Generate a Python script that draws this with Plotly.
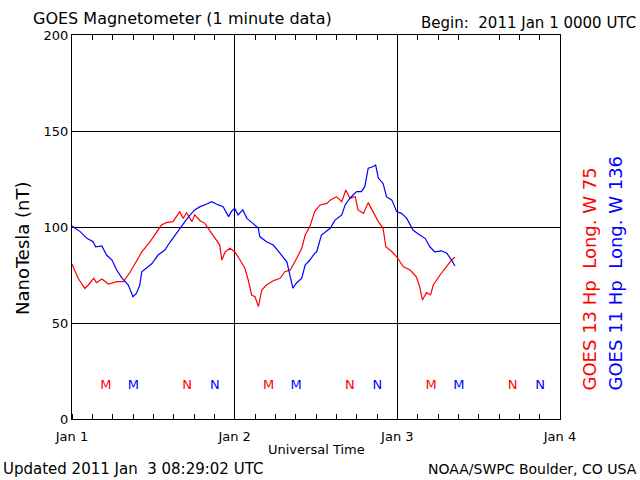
import plotly.graph_objects as go

# Hours since 2011 Jan 1 00:00 UTC
red_t = [0, 0.9, 1.9, 2.4, 3.2, 3.6, 4.4, 5.4, 6.6, 7.6, 8.6, 9.5, 10.3, 11.5, 12.5, 13.2, 14, 14.9,
         15.9, 16.4, 16.9, 17.7, 18.1, 18.9, 19.6, 20.4, 21.1, 21.8, 22.1, 22.6, 23.3, 24.0, 24.8,
         25.5, 26.0, 26.5, 27.0, 27.5, 28.0, 28.7, 29.7, 30.7, 31.4, 32.2, 32.9, 33.9, 34.4, 35.1,
         35.8, 36.6, 37.6, 38.1, 39.0, 39.8, 40.4, 41.0, 41.8, 42.2, 43.0, 43.7, 44.4, 45.2, 45.9,
         46.3, 47.2, 47.9, 48.9, 49.9, 50.8, 51.3, 51.7, 52.3, 52.9, 53.3, 54.3, 55.3, 56.0, 56.5]
red_v = [80.7, 73.3, 68, 69.8, 73.3, 71, 72.9, 70.3, 71.5, 71.5, 76.7, 82, 87, 92.3, 97.6, 101, 102.4,
         102.8, 108, 104.5, 107.4, 102.8, 106.3, 103.3, 101.9, 97.6, 94.1, 90.6, 82.8, 87, 88.9, 87.1,
         82.8, 78.5, 72.4, 64.6, 63.7, 58.5, 67.2, 69.8, 72, 73.3, 76.7, 77.6, 82, 88.9, 95.8, 100.2,
         108, 111.5, 112.3, 114, 115.8, 113.2, 119.3, 115, 115.8, 108.9, 107.1, 112.7, 108, 102.8,
         99.3, 89.7, 87.1, 84.5, 79.3, 77.6, 74.1, 68.9, 62, 65.8, 64.6, 69.8, 75, 79.3, 82.8, 84.2]

blue_t = [0, 1.2, 2.2, 3.1, 3.5, 4.4, 5.1, 5.9, 6.6, 7.3, 8.3, 9.0, 9.5, 10.0, 10.3, 11.0, 11.8, 12.7,
          13.7, 14.5, 15.4, 16.4, 17.2, 18.1, 18.9, 19.9, 20.6, 21.6, 22.3, 23.1, 23.6, 24.0, 24.5,
          25.2, 25.8, 26.7, 27.5, 27.7, 28.7, 29.7, 30.7, 31.7, 32.2, 32.6, 33.1, 33.9, 34.4, 35.1,
          35.8, 36.1, 36.8, 38.1, 38.8, 39.8, 40.3, 41.0, 42.0, 42.7, 43.2, 43.7, 44.4, 44.8, 45.2,
          45.9, 46.4, 47.2, 47.9, 48.6, 49.4, 50.3, 51.3, 52.1, 52.8, 53.5, 54.5, 55.3, 56.0, 56.5]
blue_v = [100.5, 97.6, 94.1, 92.3, 89.7, 90.1, 85.4, 82.8, 77.6, 73.8, 69.8, 63.7, 65.4, 69.8, 76.7,
          78.5, 81, 85.4, 88, 92.3, 96.7, 101.9, 105.4, 108.9, 110.6, 112, 113.2, 111.5, 110.6, 105.4,
          108.5, 109.7, 106.3, 108.9, 104.5, 101.9, 99.3, 95, 92.3, 90.6, 86.3, 81.9, 74.1, 68.1, 70.7,
          73.3, 80.2, 82.8, 86.3, 87.1, 95.8, 99.3, 103.6, 106.3, 111.5, 115, 118.4, 118.4, 121, 130.6,
          131.4, 132.3, 125.4, 122.7, 115.8, 114, 108, 107.1, 104.5, 98.4, 95.8, 94.1, 89.7, 87.1,
          87.6, 86.3, 82.8, 79.7]

# Local midnight (M) and noon (N) marker times, hours UT
red_m = [5, 29, 53]
red_n = [17, 41, 65]
blue_m = [9.07, 33.07, 57.07]
blue_n = [21.07, 45.07, 69.07]
marker_level = 17.2

day_ticks = [0, 24, 48, 72]
day_labels = ["Jan 1", "Jan 2", "Jan 3", "Jan 4"]
y_ticks = [0, 50, 100, 150, 200]

RED = "#FF0000"
BLUE = "#0000FF"
FONT = "DejaVu Sans"

fig = go.Figure()
fig.add_trace(go.Scatter(x=red_t, y=red_v, mode="lines", line=dict(color=RED, width=1.2),
                         showlegend=False, hoverinfo="skip"))
fig.add_trace(go.Scatter(x=blue_t, y=blue_v, mode="lines", line=dict(color=BLUE, width=1.2),
                         showlegend=False, hoverinfo="skip"))
# M / N markers as text
fig.add_trace(go.Scatter(x=red_m + red_n, y=[marker_level] * 6, mode="text",
                         text=["M"] * 3 + ["N"] * 3, textfont=dict(color=RED, size=13, family=FONT),
                         showlegend=False, hoverinfo="skip"))
fig.add_trace(go.Scatter(x=blue_m + blue_n, y=[marker_level] * 6, mode="text",
                         text=["M"] * 3 + ["N"] * 3, textfont=dict(color=BLUE, size=13, family=FONT),
                         showlegend=False, hoverinfo="skip"))
# invisible trace for top axis
fig.add_trace(go.Scatter(x=[0, 72], y=[0, 0], xaxis="x2", mode="lines",
                         line=dict(width=0), opacity=0, showlegend=False, hoverinfo="skip"))

fig.update_layout(
    width=640, height=480,
    margin=dict(l=72, r=80, t=35, b=61),
    paper_bgcolor="white", plot_bgcolor="white",
    font=dict(family=FONT, size=13, color="black"),
    xaxis=dict(range=[0, 72], tickvals=day_ticks, ticktext=day_labels, ticks="",
               showgrid=True, gridcolor="black", gridwidth=1,
               showline=True, linecolor="black", linewidth=1, mirror=True,
               zeroline=False, tickfont=dict(size=13), ticklabelstandoff=5,
               minor=dict(dtick=3, tick0=0, ticks="inside", ticklen=5, tickcolor="black",
                          showgrid=False)),
    xaxis2=dict(range=[0, 72], overlaying="x", side="top", showticklabels=False,
                ticks="", showgrid=False, zeroline=False, showline=False,
                minor=dict(dtick=3, tick0=0, ticks="inside", ticklen=5, tickcolor="black",
                           showgrid=False)),
    yaxis=dict(range=[0, 200], tickvals=y_ticks, ticks="", showgrid=True, gridcolor="black",
               gridwidth=1, showline=True, linecolor="black", linewidth=1, mirror=True,
               zeroline=False, tickfont=dict(size=13)),
)

def px2paper(px, py):
    return (px - 72) / 488.0, (419 - py) / 384.0

def ann(text, px, py, xanchor, yanchor, size=14, color="black", angle=0):
    x, y = px2paper(px, py)
    fig.add_annotation(text=text, x=x, y=y, xref="paper", yref="paper", showarrow=False,
                       xanchor=xanchor, yanchor=yanchor, textangle=angle,
                       font=dict(family=FONT, size=size, color=color))

ann("GOES Magnetometer (1 minute data)", 31, 18, "left", "middle", size=16)
ann("Begin:  2011 Jan 1 0000 UTC", 638, 23, "right", "middle", size=15)
ann("Universal Time", 316, 449, "center", "middle", size=13)
ann("Updated 2011 Jan  3 08:29:02 UTC", 1, 469, "left", "middle", size=15)
ann("NOAA/SWPC Boulder, CO USA", 639, 469, "right", "middle", size=14)
ann("NanoTesla (nT)", 22, 248, "center", "middle", size=18, angle=-90)
ann("GOES 13 Hp  Long. W 75", 589, 393, "center", "bottom", size=18, color=RED, angle=-90)
ann("GOES 11 Hp  Long. W 136", 615, 393, "center", "bottom", size=18, color=BLUE, angle=-90)

fig.write_html("out.html", config={"displayModeBar": False},
               post_script="document.body.style.margin='0';")
